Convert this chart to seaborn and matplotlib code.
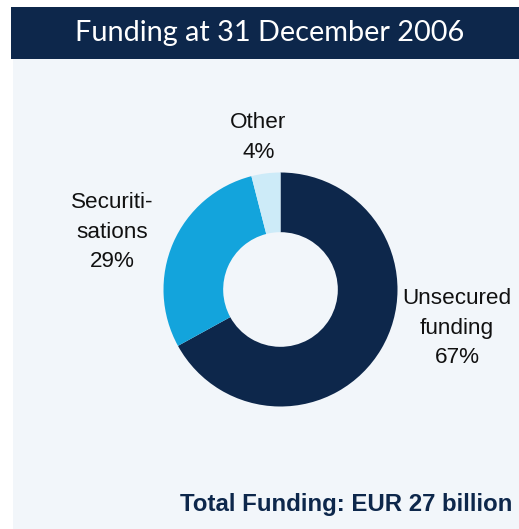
import matplotlib
matplotlib.use("Agg")
import matplotlib.pyplot as plt
from matplotlib.patches import Rectangle
import seaborn as sns

# Funding mix at year end 2006 (share of total, %)
segments = ["Unsecured\nfunding", "Securiti-\nsations", "Other"]
shares = [67, 29, 4]
colors = ["#0D274B", "#13A4DC", "#CDEBF8"]
title = "Funding at 31 December 2006"
total_note = "Total Funding: EUR 27 billion"

sns.set_theme(style="white")
plt.rcParams["font.family"] = ["Liberation Sans", "DejaVu Sans"]

W, H = 519, 529
fig = plt.figure(figsize=(W / 100, H / 100), dpi=100)
fig.patch.set_facecolor("white")

# light panel and header band
fig.patches.append(Rectangle((13 / W, 0), 1 - 13 / W, 1 - 58 / H,
                             transform=fig.transFigure, facecolor="#F2F6FA",
                             edgecolor="none", zorder=-2))
fig.patches.append(Rectangle((11 / W, 1 - 58.5 / H), 1 - 11 / W, 51.5 / H,
                             transform=fig.transFigure, facecolor="#0D274B",
                             edgecolor="none", zorder=-2))
fig.text(270 / W, 1 - 33 / H, title, color="white", fontsize=20.8,
         family=["Lato", "DejaVu Sans"], ha="center", va="center")

# donut
cx, cy, r = 280.5, 289.5, 117
ax = fig.add_axes([(cx - r) / W, 1 - (cy + r) / H, 2 * r / W, 2 * r / H])
ax.set_zorder(2)
ax.pie(shares, colors=colors, startangle=90, counterclock=False, radius=1,
       wedgeprops=dict(width=0.51, edgecolor="none"))
ax.set_xlim(-1, 1)
ax.set_ylim(-1, 1)
ax.set_facecolor("none")
ax.patch.set_alpha(0)

label_pos = [(1.51, -0.33), (-1.44, 0.49), (-0.19, 1.30)]
for name, val, (lx, ly) in zip(segments, shares, label_pos):
    ax.text(lx, ly, f"{name}\n{val}%", ha="center", va="center",
            fontsize=16.2, color="#111111", linespacing=1.55, clip_on=False)

fig.text(512 / W, 1 - 504 / H, total_note, color="#0D274B", fontsize=17.3,
         fontweight="bold", ha="right", va="center")

fig.savefig("out.png", dpi=100, facecolor=fig.get_facecolor())
